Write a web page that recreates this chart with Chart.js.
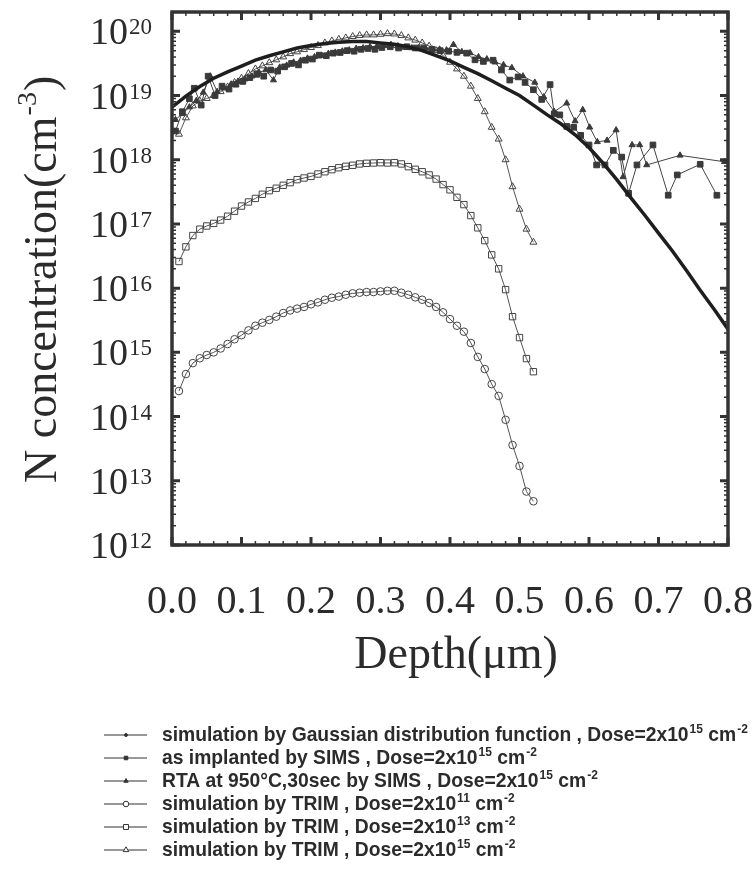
<!DOCTYPE html>
<html>
<head>
<meta charset="utf-8">
<script src="https://cdn.jsdelivr.net/npm/chart.js@4.4.0/dist/chart.umd.min.js"></script>
<style>
  html, body { margin: 0; padding: 0; background: #fff; }
  canvas { display: block; }
</style>
</head>
<body>
<canvas id="depthChart" width="756" height="875"></canvas>
<script>
// depth in um, concentration in cm^-3
const gaussDepth = [0.00, 0.02, 0.04, 0.06, 0.08, 0.10, 0.12, 0.14, 0.16, 0.18, 0.20,
    0.22, 0.24, 0.26, 0.28, 0.30, 0.32, 0.34, 0.36, 0.38, 0.40,
    0.42, 0.44, 0.46, 0.48, 0.50, 0.52, 0.54, 0.56, 0.58, 0.60,
    0.62, 0.64, 0.66, 0.68, 0.70, 0.72, 0.74, 0.76, 0.78, 0.80];
const gaussN = [6.6e18, 9.8e18, 1.38e19, 1.86e19, 2.34e19, 2.88e19, 3.55e19, 4.17e19, 4.79e19, 5.5e19, 6.03e19,
    6.46e19, 6.76e19, 6.92e19, 6.92e19, 6.61e19, 6.31e19, 5.75e19, 5.01e19, 4.17e19, 3.47e19,
    2.75e19, 2.19e19, 1.7e19, 1.3e19, 1.0e19, 7.1e18, 5.0e18, 3.6e18, 2.45e18, 1.55e18,
    8.9e17, 4.9e17, 2.57e17, 1.38e17, 7.2e16, 3.8e16, 1.9e16, 9.3e15, 4.7e15, 2.3e15];

const simsDepth = [0.005, 0.015, 0.025, 0.032, 0.042, 0.052, 0.062, 0.072, 0.082, 0.092,
    0.102, 0.112, 0.122, 0.132, 0.142, 0.152, 0.162, 0.172, 0.182, 0.192,
    0.202, 0.212, 0.222, 0.232, 0.242, 0.252, 0.262, 0.272, 0.282, 0.292,
    0.302, 0.314, 0.326, 0.338, 0.350, 0.362, 0.374, 0.386, 0.398, 0.410,
    0.424, 0.436, 0.448, 0.462, 0.474, 0.486, 0.498, 0.508, 0.520, 0.532,
    0.544, 0.550, 0.558, 0.568, 0.578, 0.588, 0.600, 0.611, 0.623, 0.635,
    0.647, 0.657, 0.669, 0.692, 0.714, 0.727, 0.760, 0.784];
const simsN = [2.8e18, 5.6e18, 8.9e18, 1.3e19, 7.1e18, 2.0e19, 1.0e19, 1.4e19, 1.26e19, 1.5e19,
    1.66e19, 1.9e19, 2.14e19, 2.0e19, 2.5e19, 2.4e19, 2.8e19, 3.16e19, 3.0e19, 3.55e19,
    3.7e19, 4.26e19, 4.17e19, 4.57e19, 4.68e19, 5.0e19, 4.9e19, 5.25e19, 5.4e19, 5.25e19,
    5.6e19, 5.75e19, 5.5e19, 5.75e19, 5.5e19, 5.4e19, 5.25e19, 5.0e19, 4.9e19, 4.7e19,
    4.57e19, 3.6e19, 3.4e19, 3.55e19, 2.5e19, 1.74e19, 1.95e19, 1.6e19, 1.23e19, 8.7e18,
    1.48e19, 5.2e18, 5.0e18, 3.3e18, 3.2e18, 2.4e18, 1.7e18, 8.3e17, 8.3e17, 1.4e18,
    1.1e18, 3.0e17, 8.3e17, 1.7e18, 2.8e17, 5.8e17, 8.5e17, 2.8e17];

const rtaDepth = [0.005, 0.015, 0.025, 0.035, 0.045, 0.055, 0.065, 0.075, 0.085, 0.095,
    0.105, 0.115, 0.125, 0.135, 0.146, 0.155, 0.165, 0.175, 0.185, 0.195,
    0.205, 0.215, 0.225, 0.235, 0.245, 0.255, 0.265, 0.275, 0.285, 0.295,
    0.305, 0.315, 0.325, 0.335, 0.345, 0.355, 0.365, 0.375, 0.385, 0.395,
    0.405, 0.417, 0.429, 0.441, 0.453, 0.465, 0.477, 0.489, 0.505, 0.522,
    0.535, 0.550, 0.568, 0.580, 0.591, 0.601, 0.612, 0.626, 0.639, 0.649,
    0.662, 0.673, 0.683, 0.731, 0.795];
const rtaN = [4.2e18, 5.2e18, 6.6e18, 8.3e18, 1.12e19, 2.0e19, 1.15e19, 1.3e19, 1.5e19, 1.66e19,
    1.8e19, 2.0e19, 2.3e19, 2.5e19, 1.74e19, 2.75e19, 2.95e19, 3.3e19, 3.5e19, 3.8e19,
    4.0e19, 4.2e19, 4.5e19, 4.7e19, 4.9e19, 5.1e19, 5.4e19, 5.5e19, 5.75e19, 5.9e19,
    6.0e19, 6.2e19, 5.9e19, 5.6e19, 5.5e19, 5.5e19, 5.4e19, 5.25e19, 5.25e19, 5.1e19,
    6.2e19, 4.8e19, 4.6e19, 4.0e19, 3.7e19, 3.3e19, 3.0e19, 2.7e19, 2.0e19, 1.6e19,
    9.5e18, 5.6e18, 7.6e18, 4.0e18, 6.0e18, 3.2e18, 1.9e18, 2.0e18, 2.9e18, 5.4e17,
    1.7e18, 1.7e18, 8.3e17, 1.17e18, 9.3e17];

const trimDepth = [0.01, 0.02, 0.03, 0.04, 0.05, 0.06, 0.07, 0.08, 0.09, 0.10,
    0.11, 0.12, 0.13, 0.14, 0.15, 0.16, 0.17, 0.18, 0.19, 0.20,
    0.21, 0.22, 0.23, 0.24, 0.25, 0.26, 0.27, 0.28, 0.29, 0.30,
    0.31, 0.32, 0.33, 0.34, 0.35, 0.36, 0.37, 0.38, 0.39, 0.40,
    0.41, 0.42, 0.43, 0.44, 0.45, 0.46, 0.47, 0.48, 0.49, 0.50,
    0.51, 0.52];
const trim11N = [2.5e14, 4.6e14, 6.8e14, 8.1e14, 9.1e14, 1.0e15, 1.15e15, 1.35e15, 1.6e15, 1.85e15,
    2.2e15, 2.6e15, 2.9e15, 3.2e15, 3.6e15, 4.1e15, 4.5e15, 4.8e15, 5.1e15, 5.6e15,
    6.0e15, 6.6e15, 7.1e15, 7.4e15, 7.9e15, 8.3e15, 8.5e15, 8.7e15, 8.7e15, 8.9e15,
    9.1e15, 9.1e15, 8.5e15, 7.9e15, 7.2e15, 6.6e15, 5.9e15, 5.1e15, 4.2e15, 3.3e15,
    2.6e15, 2.1e15, 1.4e15, 8.5e14, 5.5e14, 3.2e14, 2.1e14, 8.9e13, 3.6e13, 1.7e13,
    6.8e12, 4.8e12];
const trim13N = [2.6e16, 4.4e16, 6.6e16, 8.3e16, 9.3e16, 1.02e17, 1.15e17, 1.32e17, 1.58e17, 1.9e17,
    2.2e17, 2.5e17, 2.9e17, 3.3e17, 3.6e17, 4.0e17, 4.4e17, 4.9e17, 5.2e17, 5.5e17,
    6.0e17, 6.5e17, 7.0e17, 7.5e17, 7.9e17, 8.2e17, 8.6e17, 8.8e17, 8.9e17, 9.0e17,
    8.9e17, 9.0e17, 8.6e17, 7.8e17, 7.1e17, 6.5e17, 5.8e17, 5.0e17, 4.1e17, 3.4e17,
    2.6e17, 2.0e17, 1.35e17, 8.7e16, 5.5e16, 3.3e16, 2.0e16, 9.5e15, 3.6e15, 1.7e15,
    8.0e14, 5.0e14];
const trim15N = [2.5e18, 4.5e18, 6.9e18, 8.2e18, 9.0e18, 1.0e19, 1.15e19, 1.36e19, 1.6e19, 1.86e19,
    2.2e19, 2.6e19, 2.9e19, 3.25e19, 3.6e19, 4.0e19, 4.5e19, 4.8e19, 5.2e19, 5.6e19,
    6.0e19, 6.6e19, 7.1e19, 7.5e19, 7.9e19, 8.3e19, 8.6e19, 8.8e19, 8.8e19, 9.0e19,
    9.2e19, 9.1e19, 8.6e19, 7.9e19, 7.3e19, 6.6e19, 5.9e19, 5.0e19, 4.2e19, 3.3e19,
    2.6e19, 2.0e19, 1.4e19, 9.0e18, 5.6e18, 3.2e18, 2.1e18, 1.0e18, 3.8e17, 1.7e17,
    8.3e16, 5.2e16];

const xTicks = [0.0, 0.1, 0.2, 0.3, 0.4, 0.5, 0.6, 0.7, 0.8];
const yTickExps = [12, 13, 14, 15, 16, 17, 18, 19, 20];

const legendNames = [
    "simulation by Gaussian distribution function , Dose=2x10",
    "as implanted by SIMS , Dose=2x10",
    "RTA at 950\u00b0C,30sec by SIMS , Dose=2x10",
    "simulation by TRIM , Dose=2x10",
    "simulation by TRIM , Dose=2x10",
    "simulation by TRIM , Dose=2x10"
];
const legendDoseExp = ["15", "15", "15", "11", "13", "15"];

const SERIF = '"Liberation Serif", "Times New Roman", serif';
const SANS = '"Liberation Sans", Arial, sans-serif';
const INK = "#2b2b2b";

function pts(xs, ys) {
    return xs.map((v, i) => ({ x: v, y: ys[i] }));
}

// frame, inward ticks, labels, titles and legend
const decorPlugin = {
    id: "decor",
    afterDraw(chart) {
        const { ctx, chartArea: a, scales: { x, y } } = chart;
        ctx.save();
        ctx.strokeStyle = "#333";
        ctx.fillStyle = INK;

        // x ticks every 0.02, major every 0.1
        for (let i = 0; i <= 40; i++) {
            const px = x.getPixelForValue(i * 0.02);
            const major = i % 5 === 0;
            const len = major ? 8 : 4;
            ctx.lineWidth = major ? 3 : 1.5;
            ctx.beginPath();
            ctx.moveTo(px, a.bottom); ctx.lineTo(px, a.bottom - len);
            ctx.moveTo(px, a.top); ctx.lineTo(px, a.top + len);
            ctx.stroke();
        }
        // y ticks: decades + 2..9
        for (let e = 12; e <= 20; e++) {
            for (let m = 1; m <= 9; m++) {
                const v = m * Math.pow(10, e);
                if (v > y.max) break;
                const py = y.getPixelForValue(v);
                const major = m === 1;
                const len = major ? 8 : 4;
                ctx.lineWidth = major ? 3 : 1.5;
                ctx.beginPath();
                ctx.moveTo(a.left, py); ctx.lineTo(a.left + len, py);
                ctx.moveTo(a.right, py); ctx.lineTo(a.right - len, py);
                ctx.stroke();
            }
        }
        // frame
        ctx.lineWidth = 3.5;
        ctx.strokeRect(a.left, a.top, a.right - a.left, a.bottom - a.top);

        // x tick labels
        ctx.font = "40px " + SERIF;
        ctx.textAlign = "center";
        ctx.textBaseline = "alphabetic";
        xTicks.forEach(v => {
            ctx.fillText(v.toFixed(1), x.getPixelForValue(v), a.bottom + 68);
        });

        // y tick labels 10^n
        yTickExps.forEach(e => {
            const py = y.getPixelForValue(Math.pow(10, e));
            ctx.font = "38px " + SERIF;
            ctx.textAlign = "right";
            ctx.fillText("10", 128, py + 13);
            ctx.font = "23px " + SERIF;
            ctx.textAlign = "left";
            ctx.fillText(String(e), 129, py + 3);
        });

        // x title
        ctx.font = "46px " + SERIF;
        ctx.textAlign = "center";
        ctx.fillText("Depth(\u03bcm)", (a.left + a.right) / 2 + 6, 668);

        // y title, rotated
        ctx.save();
        ctx.translate(56, 483);
        ctx.rotate(-Math.PI / 2);
        ctx.textAlign = "left";
        ctx.font = "46px " + SERIF;
        const t1 = "N concentration(cm";
        ctx.fillText(t1, 0, 0);
        let w = ctx.measureText(t1).width;
        ctx.font = "28px " + SERIF;
        ctx.fillText("-3", w + 1, -20);
        w += ctx.measureText("-3").width + 2;
        ctx.font = "46px " + SERIF;
        ctx.fillText(")", w, 0);
        ctx.restore();

        // legend
        chart.data.datasets.forEach((ds, i) => {
            const rowY = 735 + i * 23;
            ctx.strokeStyle = "#333";
            ctx.lineWidth = 1.2;
            ctx.beginPath();
            ctx.moveTo(104, rowY); ctx.lineTo(147, rowY);
            ctx.stroke();
            ctx.fillStyle = ds.legendFill;
            ctx.strokeStyle = "#333";
            ctx.lineWidth = 1;
            Chart.helpers.drawPoint(ctx, {
                pointStyle: ds.pointStyle,
                radius: ds.legendRadius,
                borderWidth: 1,
                rotation: 0
            }, 126, rowY);

            ctx.fillStyle = INK;
            ctx.textAlign = "left";
            let tx = 162;
            const base = rowY + 6;
            ctx.font = "bold 19.3px " + SANS;
            ctx.fillText(legendNames[i], tx, base);
            tx += ctx.measureText(legendNames[i]).width + 1;
            ctx.font = "bold 12px " + SANS;
            ctx.fillText(legendDoseExp[i], tx, base - 8);
            tx += ctx.measureText(legendDoseExp[i]).width;
            ctx.font = "bold 19.3px " + SANS;
            ctx.fillText(" cm", tx, base);
            tx += ctx.measureText(" cm").width + 1;
            ctx.font = "bold 12px " + SANS;
            ctx.fillText("-2", tx, base - 8);
        });
        ctx.restore();
    }
};

new Chart(document.getElementById("depthChart"), {
    type: "scatter",
    data: {
        datasets: [{
            label: "simulation by Gaussian distribution function",
            data: pts(gaussDepth, gaussN),
            showLine: true,
            borderColor: "#1e1e1e",
            borderWidth: 3.5,
            pointRadius: 0,
            pointStyle: "circle",
            legendRadius: 1.5,
            legendFill: "#333",
            order: 0
        }, {
            label: "as implanted by SIMS",
            data: pts(simsDepth, simsN),
            showLine: true,
            borderColor: "#444",
            borderWidth: 1,
            pointStyle: "rect",
            pointRadius: 4,
            pointBackgroundColor: "#3a3a3a",
            pointBorderColor: "#3a3a3a",
            legendRadius: 2.5,
            legendFill: "#333",
            order: 2
        }, {
            label: "RTA at 950C,30sec by SIMS",
            data: pts(rtaDepth, rtaN),
            showLine: true,
            borderColor: "#444",
            borderWidth: 1,
            pointStyle: "triangle",
            pointRadius: 3.5,
            pointBackgroundColor: "#3a3a3a",
            pointBorderColor: "#3a3a3a",
            legendRadius: 2.5,
            legendFill: "#333",
            order: 1
        }, {
            label: "simulation by TRIM, 2e11",
            data: pts(trimDepth, trim11N),
            showLine: true,
            borderColor: "#555",
            borderWidth: 1,
            pointStyle: "circle",
            pointRadius: 3.8,
            pointBorderWidth: 1,
            pointBackgroundColor: "rgba(255,255,255,0)",
            pointBorderColor: "#444",
            legendRadius: 2.8,
            legendFill: "#fff",
            order: 3
        }, {
            label: "simulation by TRIM, 2e13",
            data: pts(trimDepth, trim13N),
            showLine: true,
            borderColor: "#555",
            borderWidth: 1,
            pointStyle: "rect",
            pointRadius: 4.5,
            pointBorderWidth: 1,
            pointBackgroundColor: "rgba(255,255,255,0)",
            pointBorderColor: "#444",
            legendRadius: 3.5,
            legendFill: "#fff",
            order: 3
        }, {
            label: "simulation by TRIM, 2e15",
            data: pts(trimDepth, trim15N),
            showLine: true,
            borderColor: "#555",
            borderWidth: 1,
            pointStyle: "triangle",
            pointRadius: 4,
            pointBorderWidth: 1,
            pointBackgroundColor: "rgba(255,255,255,0)",
            pointBorderColor: "#444",
            legendRadius: 3.2,
            legendFill: "#fff",
            order: 3
        }]
    },
    options: {
        responsive: false,
        animation: false,
        layout: { padding: { top: 12, right: 28, left: 0, bottom: 0 } },
        plugins: {
            legend: { display: false },
            tooltip: { enabled: false }
        },
        scales: {
            x: {
                type: "linear",
                min: 0,
                max: 0.8,
                ticks: { display: false },
                grid: { display: false },
                border: { display: false },
                afterFit: (s) => { s.height = 330; }
            },
            y: {
                type: "logarithmic",
                min: 1e12,
                max: 2.0e20,
                ticks: { display: false },
                grid: { display: false },
                border: { display: false },
                afterFit: (s) => { s.width = 172; }
            }
        }
    },
    plugins: [decorPlugin]
});
</script>
</body>
</html>
